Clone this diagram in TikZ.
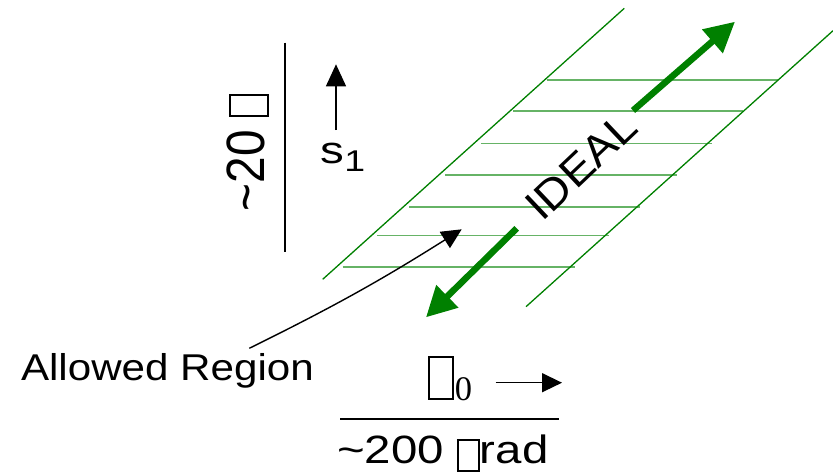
\documentclass[tikz,border=0pt]{standalone}
\usepackage{fontspec}
\setmainfont{Liberation Sans}
\newfontfamily\fallowed[FakeStretch=1.13]{Liberation Sans}
\newfontfamily\frad[FakeStretch=1.2]{Liberation Sans}
\newfontfamily\ftwenty[FakeStretch=0.885]{Liberation Sans}
\newfontfamily\fsone[FakeStretch=1.25]{Liberation Sans}
\newfontfamily\fideal[FakeStretch=1.08]{Liberation Sans}
\newfontfamily\fser{Liberation Serif}
\usetikzlibrary{arrows.meta}
\definecolor{grn}{RGB}{0,128,0}
\newcommand\tofubox[3]{\raisebox{#3}{\setlength\fboxsep{0pt}\setlength\fboxrule{2pt}\fbox{\rule{0pt}{\dimexpr#2-4pt\relax}\rule{\dimexpr#1-4pt\relax}{0pt}}}}
\tikzset{
  lbl/.style={inner sep=0pt, outer sep=0pt, text=black},
  band/.style={draw=grn, line width=1.3pt},
  hatch/.style={draw=grn!60, line width=1.6pt},
  garrow/.style={draw=grn, line width=6.5pt, -{Triangle[length=30pt,width=30pt]}},
  barrow/.style={draw=black, line width=1.3pt, -{Triangle[length=20pt,width=19pt]}},
  rule/.style={draw=black, line width=2pt}
}
\begin{document}
\begin{tikzpicture}[x=1pt,y=-1pt]
\path[use as bounding box] (0,0) rectangle (833,472);
% green band
\coordinate (L1) at (322.7,279.3);
\coordinate (L2) at (624.3,8.3);
\coordinate (R1) at (526,306.7);
\coordinate (R2) at (833,30.7);
\foreach \y/\xa/\xb in {80/546.7/778.3, 110.7/513.3/743.3, 143.3/481/712.3, 174.7/445/676.7, 206.7/409.3/640, 235.3/377.3/609.3, 266.7/342.7/575}{
  \draw[hatch] (\xa,\y) -- (\xb,\y);
}
\draw[band] (L1) -- (L2);
\draw[band] (R1) -- (R2);
% green arrows
\coordinate (UA) at (633,110.5);
\coordinate (UT) at (735,21.7);
\coordinate (DA) at (516.7,228.3);
\coordinate (DT) at (426,317.3);
\draw[garrow] (UA) -- (UT);
\draw[garrow] (DA) -- (DT);
% IDEAL
\node[lbl, rotate=43.5] (ideal) at (581,166) {\fontsize{43}{50}\fideal IDEAL};
% vertical rule and ~20 label
\coordinate (V1) at (285,42.7);
\coordinate (V2) at (285,251.7);
\draw[rule, line width=2.2pt] (V1) -- (V2);
\node[lbl, rotate=90, anchor=base west] (twenty) at (264.5,211) {\fontsize{54}{60}\ftwenty \char`\~20 \tofubox{23pt}{40pt}{-2pt}};
% s1 arrow
\coordinate (S0) at (336,130);
\coordinate (S1) at (336,64.3);
\draw[black, line width=1.3pt, -{Triangle[length=22pt,width=20pt]}] (S0) -- (S1);
\node[lbl, anchor=base west] (s1) at (320.5,163) {\fontsize{38}{44}\fsone s\raisebox{-8.3pt}{\fontsize{30}{36}\fsone 1}};
% allowed region
\node[lbl, anchor=base west] (allowed) at (21,380) {\fontsize{37.3}{44}\fallowed Allowed Region};
\coordinate (AS) at (249.3,348.3);
\coordinate (AT) at (461.7,229.3);
\draw[barrow, line width=1.4pt] (AS) to[bend right=3] (AT);
% theta0 and arrow
\node[lbl, anchor=base west] (theta) at (428.3,400) {\tofubox{26pt}{44pt}{1.7pt}\kern0.5pt{\fontsize{34.5}{40}\fser 0}};
\coordinate (TA) at (495.7,382.7);
\coordinate (TB) at (562,382.7);
\draw[barrow, line width=1.5pt] (TA) -- (TB);
% fraction line
\coordinate (F1) at (340,419);
\coordinate (F2) at (559,419);
\draw[rule, line width=1.7pt] (F1) -- (F2);
\node[lbl, anchor=base west] (rad) at (337,463.3) {\fontsize{39.5}{46}\frad \char`\~200 \tofubox{23pt}{33pt}{-6.7pt}rad};
\end{tikzpicture}
\end{document}
